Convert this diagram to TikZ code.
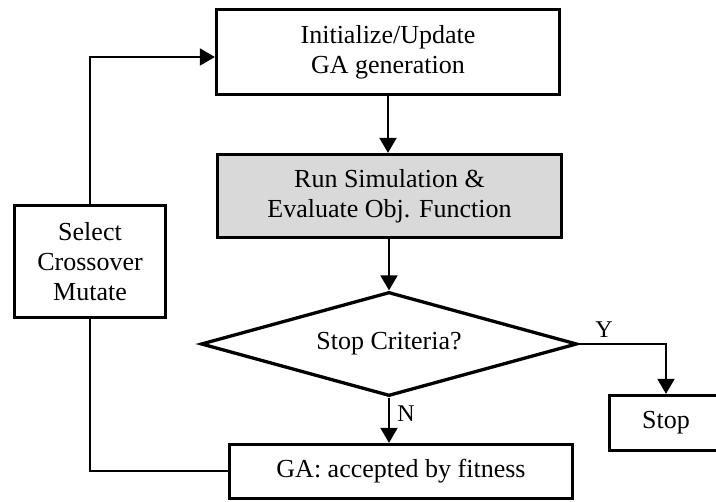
\documentclass[tikz,border=0pt]{standalone}
\usepackage{fontspec}
\setmainfont{Liberation Serif}
\usetikzlibrary{shapes.geometric,arrows.meta}
\definecolor{simgray}{RGB}{217,217,217}
\begin{document}
\begin{tikzpicture}[x=1pt,y=-1pt,
  box/.style={draw, line width=3.3pt, inner sep=0pt, align=center,
    font=\fontsize{26pt}{30pt}\selectfont},
  conn/.style={line width=2pt},
  arr/.style={conn, -{Triangle[length=15pt,width=17pt]}},
  lab/.style={font=\fontsize{24pt}{28pt}\selectfont, inner sep=0pt}]
\clip (0,0) rectangle (716,502);
\node[box, minimum width=343pt, minimum height=85pt] (init) at (388,52) {Initialize/Update\\GA generation};
\node[box, fill=simgray, minimum width=344pt, minimum height=83pt] (sim) at (389.5,196) {Run Simulation \&\\Evaluate Obj. Function};
\node[box, diamond, aspect=3.6, minimum width=376pt, minimum height=104pt] (dia) at (389,344) {Stop Criteria?};
\node[box, minimum width=113pt, minimum height=55pt] (stop) at (666,423) {Stop};
\node[box, minimum width=343pt, minimum height=54pt] (acc) at (401,471.5) {GA: accepted by fitness};
\node[box, minimum width=151pt, minimum height=112pt] (sel) at (90,261.5) {Select\\Crossover\\Mutate};
\node[lab] (ylab) at (604,330) {Y};
\node[lab] (nlab) at (406,414) {N};
\draw[arr] (init.south) -- (init.south |- sim.north);
\draw[arr] (dia.north |- sim.south) -- (dia.north);
\draw[arr] (dia.east) -| (stop.north);
\draw[arr] (dia.south) -- (dia.south |- acc.north);
\draw[conn] (sel.south) |- (acc.west);
\draw[arr] (sel.north) |- ([yshift=-5pt]init.west);
\end{tikzpicture}
\end{document}
